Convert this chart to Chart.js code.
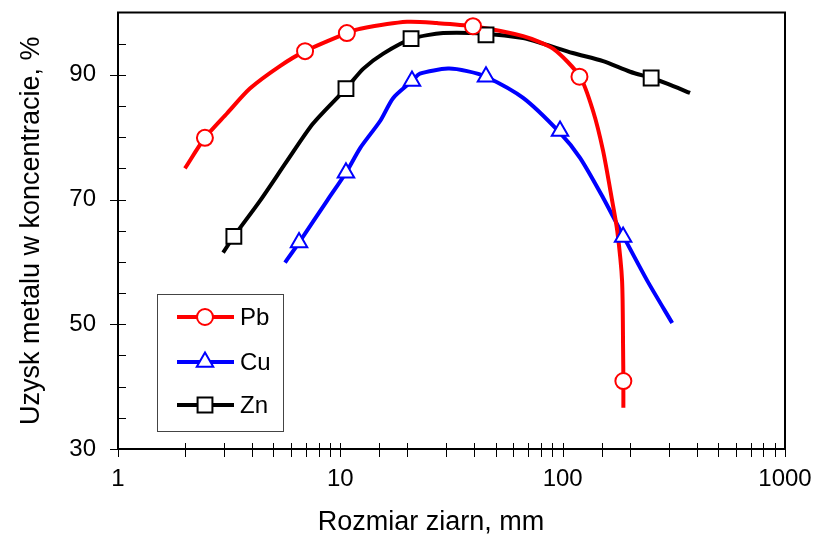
<!DOCTYPE html>
<html>
<head>
<meta charset="utf-8">
<script src="https://cdn.jsdelivr.net/npm/chart.js@4/dist/chart.umd.min.js"></script>
<style>
html,body{margin:0;padding:0;background:#fff;}
#wrap{width:816px;height:541px;position:relative;}
</style>
</head>
<body>
<div id="wrap"><canvas id="c" width="816" height="541"></canvas></div>
<script>
// ---- data ----
const seriesNames = ['Pb', 'Cu', 'Zn'];

const pbX = [2.0, 2.46, 3.09, 3.92, 5.35, 6.94, 10.7, 12.3, 19.95, 27.2, 39.5, 66.4, 90.5, 119.7, 137, 152, 167, 176, 185, 187, 187.5, 187.5];
const pbY = [75.0, 79.9, 83.8, 87.8, 91.4, 93.8, 96.7, 97.4, 98.5, 98.3, 97.8, 96.2, 94.2, 89.7, 84.2, 77.8, 69.8, 65.0, 57.0, 45.8, 40.9, 36.6];
const pbMarkX = [2.46, 6.94, 10.7, 39.5, 119, 187.5];
const pbMarkY = [79.9, 93.8, 96.7, 97.8, 89.7, 40.9];

const cuX = [5.64, 6.52, 8.71, 10.6, 12.3, 15.1, 17.3, 21.0, 22.8, 30.5, 37.2, 45.2, 66.4, 97.3, 119.7, 152, 187, 240, 311];
const cuY = [59.9, 63.1, 69.8, 74.3, 78.3, 82.6, 86.3, 89.0, 90.2, 91.0, 90.6, 89.7, 86.3, 80.7, 76.7, 70.3, 64.2, 57.0, 50.2];
const cuMarkX = [6.52, 10.6, 21.0, 45.2, 97.3, 187];
const cuMarkY = [63.1, 74.3, 89.0, 89.7, 81.0, 64.0];

const znX = [2.97, 3.32, 4.35, 5.76, 7.54, 10.6, 12.7, 15.6, 21.0, 29.0, 44.9, 66.4, 81.6, 111, 152, 201, 250, 295, 374];
const znY = [61.5, 64.1, 69.8, 76.2, 82.2, 87.8, 91.0, 93.4, 95.8, 96.7, 96.6, 95.9, 95.0, 93.5, 92.2, 90.5, 89.5, 88.6, 87.1];
const znMarkX = [3.32, 10.6, 20.8, 45.2, 250];
const znMarkY = [64.1, 87.8, 95.8, 96.4, 89.5];

const yLabelValues = [30, 50, 70, 90];
const xLabelValues = [1, 10, 100, 1000];
const xTitle = 'Rozmiar ziarn, mm';
const yTitle = 'Uzysk metalu w koncentracie, %';

// ---- styles ----
const FONT = "'Liberation Sans', Arial, sans-serif";
const colors = ['#ff0000', '#0000ff', '#000000'];
const styles = ['circle', 'triangle', 'rect'];
const radii = [8, 9.5, 10.5];

function pts(xs, ys){ return xs.map((x,i)=>({x:x, y:ys[i]})); }

const lines = [pts(pbX,pbY), pts(cuX,cuY), pts(znX,znY)];
const marks = [pts(pbMarkX,pbMarkY), pts(cuMarkX,cuMarkY), pts(znMarkX,znMarkY)];

const datasets = [];
for (let i=0;i<3;i++){
  datasets.push({
    label: seriesNames[i], data: lines[i], borderColor: colors[i], borderWidth: 4,
    pointRadius: 0, tension: 0.25, fill: false, order: 2
  });
}
for (let i=0;i<3;i++){
  datasets.push({
    label: seriesNames[i] + ' m', data: marks[i], showLine: false,
    pointStyle: styles[i], pointRadius: radii[i], pointBackgroundColor: '#ffffff',
    pointBorderColor: colors[i], pointBorderWidth: 2, order: 1
  });
}

const frameTicks = {
  id: 'frameTicks',
  afterDraw(chart){
    const ctx = chart.ctx, a = chart.chartArea;
    const xs = chart.scales.x, ys = chart.scales.y;
    ctx.save();
    ctx.strokeStyle = '#000';
    ctx.lineWidth = 1;
    // y ticks
    ys.ticks.forEach(t=>{
      const y = Math.round(ys.getPixelForValue(t.value)) + 0.5;
      if (t.value >= 100) return;
      const major = yLabelValues.includes(t.value);
      ctx.beginPath();
      ctx.moveTo(a.left - (major ? 8 : 0), y);
      ctx.lineTo(a.left + 8, y);
      ctx.stroke();
    });
    // x ticks
    xs.ticks.forEach(t=>{
      const x = Math.round(xs.getPixelForValue(t.value)) + 0.5;
      ctx.beginPath();
      ctx.moveTo(x, a.bottom - 6);
      ctx.lineTo(x, a.bottom + 8);
      ctx.stroke();
    });
    // frame
    ctx.lineWidth = 2;
    ctx.strokeRect(a.left, a.top, a.right - a.left, a.bottom - a.top);
    // x axis title (slightly left of the plot centre, as in the reference)
    ctx.fillStyle = '#000';
    ctx.font = '27px ' + FONT;
    ctx.textAlign = 'center';
    ctx.textBaseline = 'middle';
    ctx.fillText(xTitle, 431, 523);
    // legend
    const lx = 157.5, ly = 294.5, lw = 126, lh = 137;
    ctx.fillStyle = '#fff';
    ctx.fillRect(lx, ly, lw, lh);
    ctx.lineWidth = 1;
    ctx.strokeStyle = '#444';
    ctx.strokeRect(lx, ly, lw, lh);
    const rows = [317, 362, 405];
    for (let i=0;i<3;i++){
      const y = rows[i];
      ctx.strokeStyle = colors[i];
      ctx.lineWidth = 4;
      ctx.beginPath(); ctx.moveTo(177, y); ctx.lineTo(234, y); ctx.stroke();
      ctx.fillStyle = '#fff';
      ctx.strokeStyle = colors[i];
      ctx.lineWidth = 2;
      Chart.helpers.drawPoint(ctx, {pointStyle: styles[i], rotation: 0, radius: radii[i], borderWidth: 2}, 205, y);
      ctx.fillStyle = '#000';
      ctx.font = '24px ' + FONT;
      ctx.textBaseline = 'middle';
      ctx.textAlign = 'left';
      ctx.fillText(seriesNames[i], 240, y + 1);
    }
    ctx.restore();
  }
};

new Chart(document.getElementById('c'), {
  type: 'line',
  data: { datasets },
  options: {
    responsive: false, animation: false, devicePixelRatio: 1,
    layout: { padding: { top: 12, right: 31, left: 0, bottom: 0 } },
    plugins: { legend: { display: false }, tooltip: { enabled: false } },
    scales: {
      x: {
        type: 'logarithmic', min: 1, max: 1000,
        grid: { display: false, drawTicks: false },
        border: { display: false },
        ticks: {
          autoSkip: false, maxRotation: 0, padding: 16, color: '#000',
          font: { family: FONT, size: 24 },
          callback: (v) => xLabelValues.includes(v) ? String(v) : ''
        },
        title: { display: false },
        afterFit: (s) => { s.height = 92; s.paddingLeft = 0; s.paddingRight = 0; }
      },
      y: {
        type: 'linear', min: 30, max: 100,
        grid: { display: false, drawTicks: false },
        border: { display: false },
        ticks: {
          stepSize: 5, autoSkip: false, padding: 22, color: '#000',
          font: { family: FONT, size: 24 },
          callback: (v) => yLabelValues.includes(v) ? String(v) : ''
        },
        title: { display: true, text: yTitle, color: '#000', font: { family: FONT, size: 27 }, padding: { top: 15, bottom: 0 } },
        afterFit: (s) => { s.width = 118; s.paddingTop = 0; s.paddingBottom = 0; }
      }
    }
  },
  plugins: [frameTicks]
});
</script>
</body>
</html>
